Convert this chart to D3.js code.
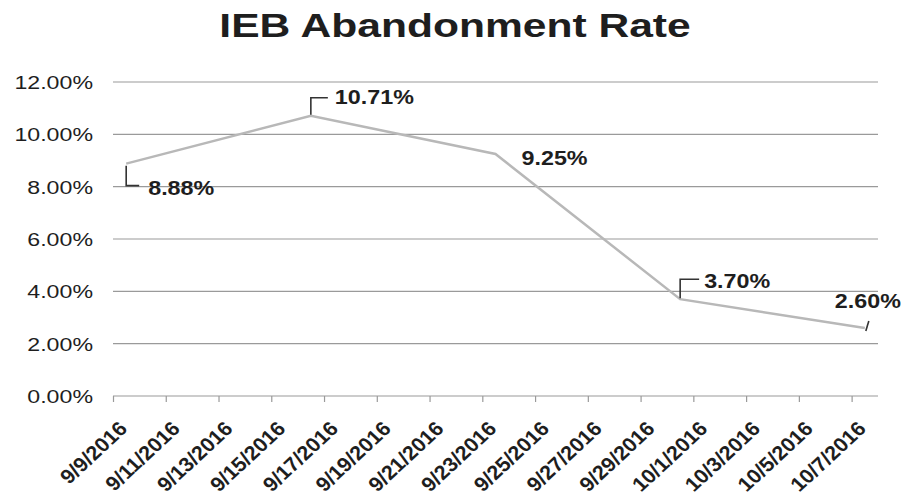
<!DOCTYPE html>
<html>
<head>
<meta charset="utf-8">
<script src="https://cdn.jsdelivr.net/npm/d3@7"></script>
<style>
  html, body { margin: 0; padding: 0; background: #fff; }
  svg { display: block; }
  text { font-family: "Liberation Sans", Arial, Helvetica, sans-serif; fill: #1e1e1e; }
</style>
</head>
<body>
<svg id="chart" width="903" height="503"></svg>
<script>
// ---- data ----
const title = "IEB Abandonment Rate";
const pointDates = ["2016-09-09", "2016-09-16", "2016-09-23", "2016-09-30", "2016-10-07"];
const rates = [8.88, 10.71, 9.25, 3.70, 2.60];
const yTicks = [0, 2, 4, 6, 8, 10, 12];
const xTickLabels = ["9/9/2016", "9/11/2016", "9/13/2016", "9/15/2016", "9/17/2016",
  "9/19/2016", "9/21/2016", "9/23/2016", "9/25/2016", "9/27/2016", "9/29/2016",
  "10/1/2016", "10/3/2016", "10/5/2016", "10/7/2016"];

// ---- layout (label placement relative to each point) ----
const labelLayout = [
  { leader: [[0, 2], [0, 22], [13, 22]], tx: 22, ty: 31 },
  { leader: [[0, -1], [0, -18], [17, -18]], tx: 24, ty: -12 },
  { leader: null, tx: 26, ty: 11 },
  { leader: [[0, -1], [0, -20], [19, -20]], tx: 24, ty: -11 },
  { leader: [[1, 3], [4, -7]], tx: -30, ty: -20 }
];

const svg = d3.select("#chart");
const parse = d3.timeParse("%Y-%m-%d");
const parseTick = d3.timeParse("%m/%d/%Y");
const fmt = d3.format(".2f");

const start = parse("2016-09-09");
const end = d3.timeDay.offset(parse("2016-10-07"), 1);
const x = d3.scaleTime().domain([start, end]).range([113, 878]);
const y = d3.scaleLinear().domain([0, 12]).range([396, 82]);
const dayW = x(d3.timeDay.offset(start, 1)) - x(start);
const px = d => x(d) + dayW / 2;

// title
svg.append("text")
  .attr("transform", "translate(455,37) scale(1.29,1)")
  .attr("text-anchor", "middle")
  .style("font-size", "33px").style("font-weight", "bold")
  .text(title);

// gridlines
svg.append("g").selectAll("line").data(yTicks).join("line")
  .attr("x1", x.range()[0]).attr("x2", x.range()[1])
  .attr("y1", d => y(d)).attr("y2", d => y(d))
  .attr("stroke", "#9a9a9a").attr("stroke-width", 1.2);

// y labels
svg.append("g").selectAll("text").data(yTicks).join("text")
  .attr("transform", d => `translate(93,${y(d) + 7}) scale(1.22,1)`)
  .attr("text-anchor", "end")
  .style("font-size", "19px")
  .text(d => fmt(d) + "%");

// x axis ticks and labels
const tickDates = xTickLabels.map(s => parseTick(s));
const xAxis = d3.axisBottom(x).tickValues(tickDates).tickSize(6).tickFormat((d, i) => xTickLabels[i]);
const gx = svg.append("g").attr("transform", `translate(0,${y(0)})`).call(xAxis);
gx.select(".domain").remove();
gx.selectAll(".tick line").attr("stroke", "#9a9a9a").attr("stroke-width", 1.2);
gx.selectAll(".tick text")
  .attr("y", 0).attr("dy", 0)
  .attr("transform", "translate(15,34) scale(1.08,1) rotate(-45)")
  .attr("text-anchor", "end")
  .style("font-size", "20px").style("font-weight", "bold")
  .style("font-family", "'Liberation Sans', Arial, sans-serif")
  .attr("fill", "#1e1e1e");

// line
const pts = pointDates.map((s, i) => ({ date: parse(s), v: rates[i] }));
const line = d3.line().x(d => px(d.date)).y(d => y(d.v));
svg.append("path").datum(pts)
  .attr("d", line)
  .attr("fill", "none")
  .attr("stroke", "#b8b8b8")
  .attr("stroke-width", 2.5);

// data labels with leader lines
const lg = svg.append("g");
pts.forEach((p, i) => {
  const cx = px(p.date), cy = y(p.v);
  const L = labelLayout[i];
  if (L.leader) {
    lg.append("path")
      .attr("d", d3.line()(L.leader.map(q => [cx + q[0], cy + q[1]])))
      .attr("fill", "none").attr("stroke", "#333").attr("stroke-width", 1.6);
  }
  lg.append("text")
    .attr("transform", `translate(${cx + L.tx},${cy + L.ty}) scale(1.11,1)`)
    .style("font-size", "21px").style("font-weight", "bold")
    .text(fmt(p.v) + "%");
});
</script>
</body>
</html>
